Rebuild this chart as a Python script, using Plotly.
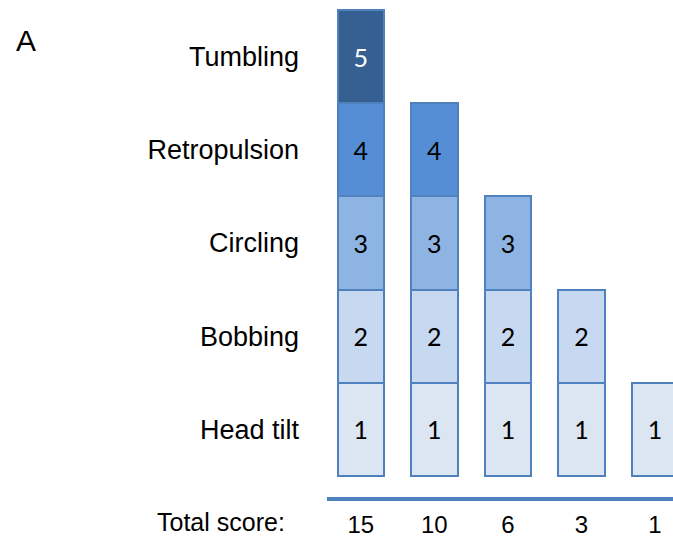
import plotly.graph_objects as go

# behaviour rows (bottom to top) and the score each one adds
behaviours = ["Head tilt", "Bobbing", "Circling", "Retropulsion", "Tumbling"]
scores = [1, 2, 3, 4, 5]
level_colors = ["#dce6f2", "#c6d9f1", "#8eb4e3", "#558ed5", "#376092"]
text_colors = ["black", "black", "black", "black", "white"]

# each column: highest behaviour reached and the resulting total score
column_max = [5, 4, 3, 2, 1]
total_scores = [15, 10, 6, 3, 1]
columns = list(range(len(column_max)))

fig = go.Figure()

for i, s in enumerate(scores):
    xs = [c for c in columns if column_max[c] >= s]
    fig.add_trace(go.Bar(
        x=xs,
        y=[1] * len(xs),
        text=[str(s)] * len(xs),
        textposition="inside",
        insidetextanchor="middle",
        textangle=0,
        constraintext="none",
        textfont=dict(family="Lato", size=25, color=text_colors[i]),
        marker=dict(color=level_colors[i], line=dict(color="#4f81bd", width=2)),
        width=0.63,
        showlegend=False,
        hoverinfo="skip",
        cliponaxis=False,
    ))

fig.update_layout(
    barmode="stack",
    width=673,
    height=537,
    margin=dict(l=327, r=0, t=0, b=40),
    plot_bgcolor="white",
    paper_bgcolor="white",
    font=dict(family="Liberation Sans", color="black"),
)

fig.update_xaxes(
    range=[-0.46, 4.245],
    tickvals=columns,
    ticktext=[str(t) for t in total_scores],
    tickfont=dict(size=24),
    showgrid=False,
    zeroline=False,
    showline=True,
    linecolor="#4f81bd",
    linewidth=4,
    ticks="",
    ticklabelstandoff=3,
    automargin=False,
)

fig.update_yaxes(
    range=[-0.225, 5.107],
    tickvals=[s - 0.5 for s in scores],
    ticktext=behaviours,
    tickfont=dict(size=27),
    showgrid=False,
    zeroline=False,
    showline=False,
    ticks="",
    ticklabelstandoff=27,
    automargin=False,
)

fig.add_annotation(
    text="Total score:", xref="paper", yref="paper",
    x=-0.1156, y=-0.05, xanchor="right", yanchor="middle",
    showarrow=False, font=dict(size=25),
)
fig.add_annotation(
    text="A", xref="paper", yref="paper",
    x=-0.905, y=0.9195, xanchor="left", yanchor="middle",
    showarrow=False, font=dict(size=30),
)

fig.write_html(
    "out.html",
    config={"displayModeBar": False},
    post_script="document.body.style.margin='0px';",
)
